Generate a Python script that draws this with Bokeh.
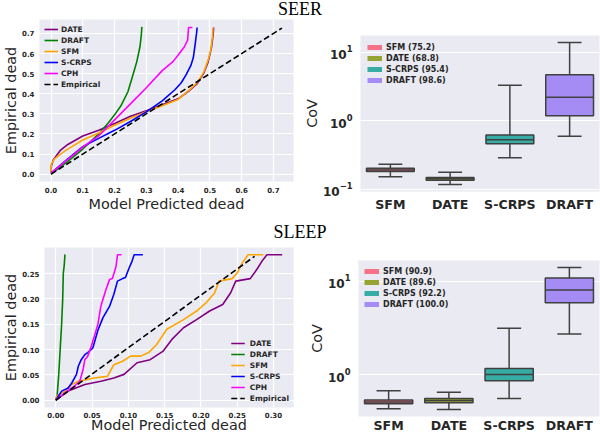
import math
from bokeh.plotting import figure
from bokeh.models import (Range1d, FactorRange, Legend, LegendItem, FixedTicker,
                          Div, NumeralTickFormatter, ColumnDataSource)
from bokeh.layouts import column, row
from bokeh.embed import file_html
from bokeh.resources import INLINE

# ---------------- data ----------------
curve_names = ["DATE", "DRAFT", "SFM", "S-CRPS", "CPH"]
curve_colors = ["purple", "green", "orange", "blue", "magenta"]

seer_date_x = [0, 0.001, 0.007, 0.03, 0.05, 0.1, 0.15, 0.2, 0.25, 0.3, 0.35, 0.4, 0.435, 0.46, 0.48, 0.495, 0.505, 0.51, 0.512]
seer_date_y = [0.01, 0.04, 0.07, 0.12, 0.145, 0.19, 0.218, 0.252, 0.288, 0.315, 0.345, 0.375, 0.415, 0.45, 0.5, 0.56, 0.63, 0.69, 0.73]
seer_draft_x = [0, 0.05, 0.1, 0.15, 0.18, 0.2, 0.22, 0.242, 0.259, 0.27, 0.28, 0.284, 0.286]
seer_draft_y = [0.0, 0.06, 0.125, 0.2, 0.255, 0.295, 0.34, 0.41, 0.5, 0.56, 0.634, 0.69, 0.733]
seer_sfm_x = [0, 0.001, 0.01, 0.03, 0.05, 0.1, 0.15, 0.2, 0.25, 0.3, 0.35, 0.4, 0.435, 0.46, 0.48, 0.495, 0.503, 0.508, 0.51]
seer_sfm_y = [0.01, 0.05, 0.075, 0.1, 0.122, 0.17, 0.205, 0.243, 0.278, 0.31, 0.34, 0.372, 0.418, 0.455, 0.505, 0.57, 0.62, 0.68, 0.73]
seer_scrps_x = [0, 0.05, 0.1, 0.15, 0.2, 0.25, 0.3, 0.35, 0.39, 0.41, 0.425, 0.44, 0.448, 0.454, 0.458, 0.46]
seer_scrps_y = [0.005, 0.072, 0.137, 0.178, 0.218, 0.262, 0.31, 0.365, 0.42, 0.455, 0.494, 0.54, 0.58, 0.65, 0.7, 0.73]
seer_cph_x = [0, 0.05, 0.1, 0.15, 0.2, 0.25, 0.3, 0.35, 0.384, 0.404, 0.42, 0.43, 0.433, 0.445]
seer_cph_y = [0.005, 0.07, 0.135, 0.19, 0.27, 0.35, 0.43, 0.515, 0.56, 0.6, 0.634, 0.667, 0.73, 0.73]
seer_emp_x = [0.0, 0.727]
seer_emp_y = [0.0, 0.727]
seer_ticks = [0.0, 0.1, 0.2, 0.3, 0.4, 0.5, 0.6, 0.7]

sleep_date_x = [0, 0.017, 0.04, 0.062, 0.08, 0.094, 0.112, 0.13, 0.148, 0.16, 0.176, 0.194, 0.212, 0.23, 0.241, 0.248, 0.268, 0.277, 0.284, 0.291, 0.312]
sleep_date_y = [0, 0.018, 0.031, 0.0375, 0.044, 0.051, 0.074, 0.08, 0.097, 0.12, 0.143, 0.159, 0.176, 0.189, 0.212, 0.235, 0.24, 0.258, 0.274, 0.287, 0.287]
sleep_draft_x = [0, 0.002, 0.004, 0.006, 0.008, 0.0095, 0.0103, 0.0115, 0.0126, 0.0131]
sleep_draft_y = [0, 0.012, 0.05, 0.1, 0.15, 0.2, 0.25, 0.265, 0.287, 0.287]
sleep_sfm_x = [0, 0.001, 0.0126, 0.022, 0.031, 0.053, 0.071, 0.08, 0.092, 0.103, 0.117, 0.128, 0.139, 0.153, 0.176, 0.194, 0.207, 0.219, 0.225, 0.243, 0.25, 0.257, 0.265, 0.286]
sleep_sfm_y = [0, 0.008, 0.018, 0.031, 0.0375, 0.044, 0.047, 0.07, 0.077, 0.087, 0.087, 0.094, 0.11, 0.14, 0.159, 0.176, 0.192, 0.212, 0.235, 0.24, 0.251, 0.271, 0.287, 0.287]
sleep_scrps_x = [0, 0.008, 0.017, 0.022, 0.0285, 0.031, 0.035, 0.04, 0.044, 0.051, 0.058, 0.065, 0.074, 0.08, 0.085, 0.092, 0.096, 0.101, 0.105, 0.108, 0.12]
sleep_scrps_y = [0, 0.018, 0.024, 0.034, 0.051, 0.067, 0.08, 0.09, 0.094, 0.103, 0.138, 0.163, 0.185, 0.209, 0.235, 0.24, 0.242, 0.261, 0.274, 0.287, 0.287]
sleep_cph_x = [0, 0.0126, 0.026, 0.033, 0.0375, 0.04, 0.044, 0.049, 0.053, 0.058, 0.062, 0.069, 0.074, 0.078, 0.083, 0.085, 0.0905]
sleep_cph_y = [0, 0.015, 0.028, 0.0375, 0.06, 0.08, 0.087, 0.107, 0.126, 0.15, 0.185, 0.218, 0.238, 0.24, 0.264, 0.287, 0.287]
sleep_emp_x = [0.0, 0.274]
sleep_emp_y = [0.0, 0.284]
sleep_xticks = [0.0, 0.05, 0.10, 0.15, 0.20, 0.25, 0.30]
sleep_yticks = [0.0, 0.05, 0.10, 0.15, 0.20, 0.25]

box_cats = ["SFM", "DATE", "S-CRPS", "DRAFT"]
box_colors = ["#f77189", "#97a431", "#36ada4", "#a48cf4"]
seer_scores = ["75.2", "68.8", "95.4", "98.6"]
seer_low = [0.153, 0.1185, 0.289, 0.594]
seer_q1 = [0.182, 0.136, 0.464, 1.19]
seer_med = [0.192, 0.143, 0.531, 2.2]
seer_q3 = [0.204, 0.150, 0.622, 4.69]
seer_high = [0.233, 0.178, 3.3, 13.8]
sleep_scores = ["90.9", "89.6", "92.2", "100.0"]
sleep_low = [0.429, 0.422, 0.552, 2.72]
sleep_q1 = [0.484, 0.497, 0.857, 5.9]
sleep_med = [0.508, 0.526, 1.0, 8.1]
sleep_q3 = [0.534, 0.552, 1.16, 10.9]
sleep_high = [0.671, 0.644, 3.15, 14.1]
cov_ticks = [0.1, 1.0, 10.0]

BG = "#EAEAF2"
TXT = "#262626"
FONT = "DejaVu Sans"
GRAY = "#404040"


def base_style(p):
    p.background_fill_color = BG
    p.border_fill_color = "white"
    p.outline_line_color = None
    for ax in p.axis:
        ax.axis_line_color = None
        ax.major_tick_line_color = None
        ax.minor_tick_line_color = None
        ax.major_tick_out = 0
        ax.major_tick_in = 0
        ax.minor_tick_out = 0
        ax.minor_tick_in = 0
        ax.major_label_text_font = FONT
        ax.axis_label_text_font = FONT
        ax.major_label_text_color = TXT
        ax.axis_label_text_color = TXT
        ax.axis_label_text_font_style = "normal"
        ax.axis_label_text_font_size = "14.4px"
        ax.axis_label_standoff = 0
    for g in p.grid:
        g.grid_line_color = "white"
        g.grid_line_width = 1.2
        g.minor_grid_line_color = None


def calib_plot(xs_list, ys_list, emp_x, emp_y, xticks, yticks, fmt,
               width, height, mbl, mbr, mbt, mbb, legend_loc, legend_margin,
               legend_standoff, label_standoff, xlabel_standoff):
    xmax = max(max(v) for v in xs_list + [emp_x])
    ymax = max(max(v) for v in ys_list + [emp_y])
    p = figure(width=width, height=height, output_backend="svg", toolbar_location=None,
               x_range=Range1d(-0.05 * xmax, 1.05 * xmax),
               y_range=Range1d(-0.05 * ymax, 1.05 * ymax),
               min_border_left=mbl, min_border_right=mbr,
               min_border_top=mbt, min_border_bottom=mbb, frame_align=False)
    base_style(p)
    p.xaxis.ticker = FixedTicker(ticks=xticks)
    p.yaxis.ticker = FixedTicker(ticks=yticks)
    p.xgrid.ticker = FixedTicker(ticks=xticks)
    p.ygrid.ticker = FixedTicker(ticks=yticks)
    p.xaxis.formatter = NumeralTickFormatter(format=fmt)
    p.yaxis.formatter = NumeralTickFormatter(format=fmt)
    for ax in p.axis:
        ax.major_label_text_font_size = "7px"
        ax.major_label_text_font_style = "bold"
    p.xaxis.major_label_standoff = label_standoff
    p.xaxis.axis_label_standoff = xlabel_standoff
    p.xaxis.axis_label = "Model Predicted dead"
    p.yaxis.axis_label = "Empirical dead"
    p.yaxis.major_label_standoff = 5

    items = []
    for name, col, xs, ys in zip(curve_names, curve_colors, xs_list, ys_list):
        r = p.line(xs, ys, line_color=col, line_width=1.6)
        items.append(LegendItem(label=name, renderers=[r]))
    r = p.line(emp_x, emp_y, line_color="black", line_width=1.6, line_dash="6 3")
    items.append(LegendItem(label="Empirical", renderers=[r]))
    leg = Legend(items=items, location=legend_loc, margin=legend_margin, padding=0, spacing=1,
                 glyph_width=14, glyph_height=10, label_height=10, label_standoff=legend_standoff,
                 label_text_font=FONT, label_text_font_size="7.5px",
                 label_text_font_style="bold", label_text_color=TXT,
                 border_line_color=None, background_fill_alpha=0)
    p.add_layout(leg)
    return p


def box_plot(low, q1, med, q3, high, scores, width, height, mbl, mbr, mbt, mbb, margin, xstandoff):
    llo = math.log10(min(low))
    lhi = math.log10(max(high))
    span = lhi - llo
    yr = Range1d(10 ** (llo - 0.05 * span), 10 ** (lhi + 0.05 * span))
    p = figure(width=width, height=height, output_backend="svg", toolbar_location=None,
               x_range=FactorRange(*box_cats), y_range=yr, y_axis_type="log",
               min_border_left=mbl, min_border_right=mbr,
               min_border_top=mbt, min_border_bottom=mbb, frame_align=False)
    base_style(p)
    p.xgrid.visible = False
    p.yaxis.ticker = FixedTicker(ticks=cov_ticks)
    p.ygrid.ticker = FixedTicker(ticks=cov_ticks)
    p.xaxis.major_label_text_font_size = "12.6px"
    p.yaxis.major_label_text_font_size = "12px"
    for ax in p.axis:
        ax.major_label_text_font_style = "bold"
    p.xaxis.major_label_standoff = xstandoff
    p.yaxis.major_label_standoff = 8
    p.yaxis.axis_label = "CoV"

    src = ColumnDataSource(dict(
        cat=box_cats, low=low, q1=q1, med=med, q3=q3, high=high, color=box_colors,
        left=[(c, -0.4) for c in box_cats], right=[(c, 0.4) for c in box_cats],
        cl=[(c, -0.2) for c in box_cats], cr=[(c, 0.2) for c in box_cats]))
    lw = 1.5
    p.segment(x0="cat", y0="q3", x1="cat", y1="high", source=src, line_color=GRAY, line_width=lw)
    p.segment(x0="cat", y0="q1", x1="cat", y1="low", source=src, line_color=GRAY, line_width=lw)
    p.vbar(x="cat", bottom="q1", top="q3", width=0.8, source=src,
           fill_color="color", line_color=GRAY, line_width=lw)
    p.segment(x0="left", y0="med", x1="right", y1="med", source=src, line_color=GRAY, line_width=lw)
    p.segment(x0="cl", y0="high", x1="cr", y1="high", source=src, line_color=GRAY, line_width=lw)
    p.segment(x0="cl", y0="low", x1="cr", y1="low", source=src, line_color=GRAY, line_width=lw)

    items = []
    for c, col, sc, m in zip(box_cats, box_colors, scores, med):
        r = p.line(x=[c, c], y=[m, m], line_color=col, line_width=5)
        items.append(LegendItem(label=f"{c} ({sc})", renderers=[r]))
    leg = Legend(items=items, location="top_left", margin=margin, padding=0, spacing=1,
                 glyph_width=15, glyph_height=10, label_height=10, label_standoff=4,
                 label_text_font=FONT, label_text_font_size="8px",
                 label_text_font_style="bold", label_text_color=TXT,
                 border_line_color=None, background_fill_alpha=0)
    p.add_layout(leg)
    return p


def title_div(txt, h, pad, lh):
    html = ('<div style="width:600px;text-align:center;font-family:\'Liberation Serif\',serif;'
            f'font-size:18px;line-height:{lh}px;color:#000;padding-top:{pad}px;">{txt}</div>')
    return Div(text=html, width=600, height=h, margin=0)


tl = calib_plot([seer_date_x, seer_draft_x, seer_sfm_x, seer_scrps_x, seer_cph_x],
                [seer_date_y, seer_draft_y, seer_sfm_y, seer_scrps_y, seer_cph_y],
                seer_emp_x, seer_emp_y, seer_ticks, seer_ticks, "0.0",
                300, 202, 35, 7, 1, 39, "top_left", 5, 3, 5, 0)
tr = box_plot(seer_low, seer_q1, seer_med, seer_q3, seer_high, seer_scores,
              300, 202, 58, 1, 17, 29, 7, 5)
bl = calib_plot([sleep_date_x, sleep_draft_x, sleep_sfm_x, sleep_scrps_x, sleep_cph_x],
                [sleep_date_y, sleep_draft_y, sleep_sfm_y, sleep_scrps_y, sleep_cph_y],
                sleep_emp_x, sleep_emp_y, sleep_xticks, sleep_yticks, "0.00",
                300, 192, 40, 7, 4, 28, "bottom_right", 4, 5, 4, -4)
br = box_plot(sleep_low, sleep_q1, sleep_med, sleep_q3, sleep_high, sleep_scores,
              300, 192, 58, 1, 17, 18, 6, 1)

layout = column(title_div("SEER", 18, 0, 19), row(tl, tr), title_div("SLEEP", 23, 3, 18), row(bl, br))

open("out.html", "w").write(file_html(layout, INLINE))
